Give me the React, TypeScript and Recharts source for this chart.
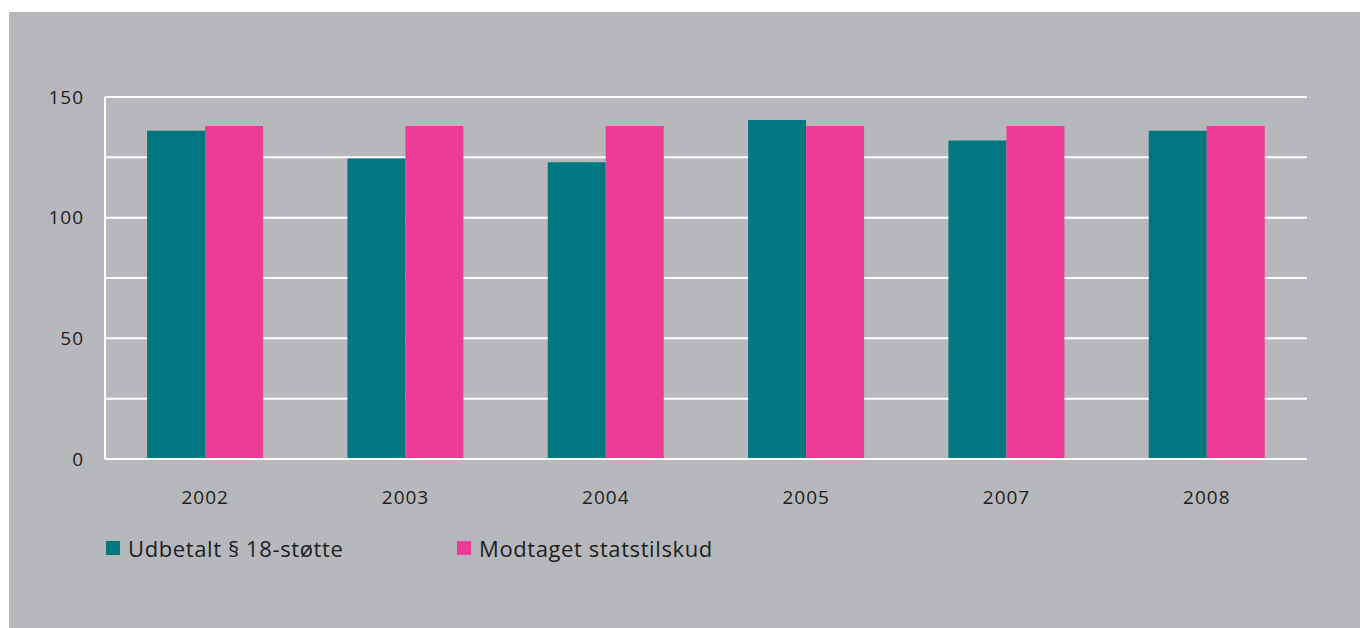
import React from 'react';
import { BarChart, Bar, XAxis, YAxis, CartesianGrid, Legend } from 'recharts';

const years = ['2002', '2003', '2004', '2005', '2007', '2008'];
const udbetalt = [136, 124.5, 123, 140.5, 132, 136];
const modtaget = [138, 138, 138, 138, 138, 138];
const yTicks = [0, 25, 50, 75, 100, 125, 150];

const seriesNames = ['Udbetalt § 18-støtte', 'Modtaget statstilskud'];
const seriesColors = ['#007781', '#ee3b97'];

const data = years.map((year, i) => ({
  year,
  udbetalt: udbetalt[i],
  modtaget: modtaget[i],
}));

const FONT = '"Open Sans", "DejaVu Sans", sans-serif';
const BG = '#b7b8bb';
const TEXT = '#1e1e1e';

const LegendBox = () => (
  <div style={{ display: 'flex', fontFamily: FONT, fontSize: 22, letterSpacing: 0.6, color: TEXT }}>
    {seriesNames.map((name, i) => (
      <div key={name} style={{ display: 'flex', alignItems: 'center', width: 351 }}>
        <span
          style={{
            display: 'inline-block',
            width: 14,
            height: 14,
            background: seriesColors[i],
            marginRight: 8,
          }}
        />
        <span>{name}</span>
      </div>
    ))}
  </div>
);

const tickStyle = { fontFamily: FONT, fontSize: 19, fill: TEXT, letterSpacing: 1 };

export default function App() {
  return (
    <div style={{ position: 'fixed', left: 0, top: 0, width: 1360, height: 628, background: '#fff', overflow: 'hidden' }}>
      <div style={{ position: 'absolute', left: 9, top: 12, width: 1351, height: 616, background: BG }}>
        <BarChart
          width={1351}
          height={616}
          data={data}
          margin={{ top: 85, right: 53, bottom: 93, left: 0 }}
          barCategoryGap="21%"
          barGap={0}
        >
          <CartesianGrid vertical={false} stroke="#ffffff" strokeWidth={2} yAxisId="l" />
          <XAxis
            dataKey="year"
            axisLine={{ stroke: '#ffffff', strokeWidth: 2 }}
            tickLine={false}
            tickMargin={26}
            height={50}
            tick={tickStyle}
          />
          <YAxis
            yAxisId="l"
            domain={[0, 150]}
            ticks={yTicks}
            interval={0}
            width={96}
            axisLine={{ stroke: '#ffffff', strokeWidth: 2 }}
            tickLine={false}
            tickMargin={15}
            tickFormatter={(v: number) => (v % 50 === 0 ? String(v) : '')}
            tick={tickStyle}
          />
          <YAxis
            yAxisId="r"
            orientation="right"
            domain={[0, 150]}
            width={0}
            tick={false}
            tickLine={false}
            axisLine={{ stroke: '#ffffff', strokeWidth: 2 }}
          />
          <Legend
            content={() => <LegendBox />}
            wrapperStyle={{ position: 'absolute', left: 97, top: 521, height: 26, width: 800 }}
          />
          <Bar yAxisId="l" dataKey="udbetalt" name={seriesNames[0]} fill={seriesColors[0]} isAnimationActive={false} />
          <Bar yAxisId="l" dataKey="modtaget" name={seriesNames[1]} fill={seriesColors[1]} isAnimationActive={false} />
        </BarChart>
      </div>
    </div>
  );
}
